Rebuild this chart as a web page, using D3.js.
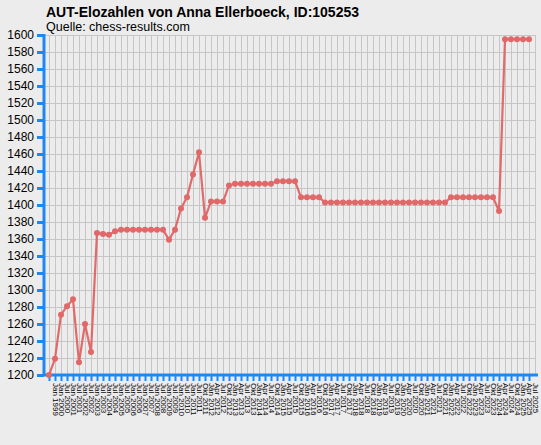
<!DOCTYPE html>
<html><head><meta charset="utf-8">
<script src="https://cdn.jsdelivr.net/npm/d3@7"></script>
<style>
html,body{margin:0;padding:0;background:#ececec;}
svg{display:block;}
</style></head>
<body>
<svg id="chart" width="541" height="445"></svg>
<script>
const title = "AUT-Elozahlen von Anna Ellerboeck, ID:105253";
const subtitle = "Quelle: chess-results.com";

const periods = [
 "Jan 1999",
 "Jan 2000","Jul 2000","Jan 2001","Jul 2001","Jan 2002","Jul 2002","Jan 2003","Jul 2003",
 "Jan 2004","Jul 2004","Jan 2005","Jul 2005","Jan 2006","Jul 2006","Jan 2007","Jul 2007",
 "Jan 2008","Jul 2008","Jan 2009","Jul 2009","Jan 2010","Jul 2010","Jan 2011",
 "Jul 2011","Okt 2011",
 "Jan 2012","Apr 2012","Jul 2012","Okt 2012",
 "Jan 2013","Apr 2013","Jul 2013","Okt 2013",
 "Jan 2014","Apr 2014","Jul 2014","Okt 2014",
 "Jan 2015","Apr 2015","Jul 2015","Okt 2015",
 "Jan 2016","Apr 2016","Jul 2016","Okt 2016",
 "Jan 2017","Apr 2017","Jul 2017","Okt 2017",
 "Jan 2018","Apr 2018","Jul 2018","Okt 2018",
 "Jan 2019","Apr 2019","Jul 2019","Okt 2019",
 "Jan 2020","Apr 2020","Jul 2020","Okt 2020",
 "Jan 2021","Apr 2021","Jul 2021","Okt 2021",
 "Jan 2022","Apr 2022","Jul 2022","Okt 2022",
 "Jan 2023","Apr 2023","Jul 2023","Okt 2023",
 "Jan 2024","Apr 2024","Jul 2024","Okt 2024",
 "Jan 2025","Apr 2025","Jul 2025"
];

const elo = [
 1200,1219,1271,1281,1289,1215,1260,1227,
 1367,1366,1365,1369,
 1371,1371,1371,1371,1371,1371,1371,1371,
 1359,1371,1396,1409,1436,1462,1385,
 1404,1404,1404,
 1423,
 1425,1425,1425,1425,1425,1425,1425,
 1428,1428,1428,1428,
 1409,1409,1409,1409,
 1403,1403,1403,1403,1403,1403,1403,1403,1403,1403,
 1403,1403,1403,1403,1403,1403,1403,1403,1403,1403,1403,
 1409,1409,1409,1409,1409,1409,1409,1409,
 1393,
 1595,1595,1595,1595,1595
];

const yTicks = [1200,1220,1240,1260,1280,1300,1320,1340,1360,1380,1400,1420,1440,1460,1480,1500,1520,1540,1560,1580,1600];

const svg = d3.select("#chart");
const W = 541, H = 445;
svg.append("rect").attr("width",W).attr("height",H).attr("fill","#ececec");

const x = d3.scalePoint().domain(periods).range([49, 529]);
const step = x.step();
const plotLeft = 44, plotRight = 529 + step + 1;
const y = d3.scaleLinear().domain([1200,1600]).range([375, 35]);

// grid
const grid = svg.append("g");
grid.selectAll("line.h").data(yTicks).join("line")
  .attr("x1", plotLeft).attr("x2", plotRight)
  .attr("y1", d=>y(d)+0.5).attr("y2", d=>y(d)+0.5)
  .attr("stroke","#c6c6c6").attr("stroke-width",1);
grid.selectAll("line.v").data(periods.concat(["__end"])).join("line")
  .attr("x1", (d,i)=> (i < periods.length ? x(d) : 529 + step) + 0.5)
  .attr("x2", (d,i)=> (i < periods.length ? x(d) : 529 + step) + 0.5)
  .attr("y1", y(1600)).attr("y2", y(1200))
  .attr("stroke","#c6c6c6").attr("stroke-width",1);

// y axis
const yAxis = d3.axisLeft(y).tickValues(yTicks).tickSize(7).tickPadding(3).tickFormat(d3.format("d"));
const gy = svg.append("g").attr("transform",`translate(${plotLeft},0)`).call(yAxis);
gy.select(".domain").attr("stroke","#1e88f0").attr("stroke-width",3).attr("d",`M0,${y(1600)-1}V${y(1200)+1}`);
gy.selectAll(".tick line").attr("stroke","#1e88f0").attr("stroke-width",3);
gy.selectAll(".tick text").attr("fill","#000").style("font-family","Liberation Sans, Arial, sans-serif").style("font-size","12px");

// x axis
const xAxis = d3.axisBottom(x).tickSize(6).tickPadding(2);
const gx = svg.append("g").attr("transform",`translate(0,${y(1200)})`).call(xAxis);
gx.select(".domain").attr("stroke","#1e88f0").attr("stroke-width",3).attr("d",`M${plotLeft-1},0H${plotRight+2}`);
gx.selectAll(".tick line").attr("stroke","#1e88f0").attr("stroke-width",2).attr("y1",1);
gx.selectAll(".tick text")
  .attr("fill","#000")
  .style("font-family","Liberation Sans, Arial, sans-serif")
  .style("font-size","8px")
  .attr("text-anchor","start")
  .attr("dy","0")
  .attr("transform","translate(3,8) rotate(90)")
  .attr("x",0).attr("y",0);

// line
const line = d3.line().x((d,i)=>x(periods[i])).y(d=>y(d));
svg.append("path").datum(elo)
  .attr("d", line).attr("fill","none")
  .attr("stroke","#e06464").attr("stroke-width",2.2).attr("stroke-opacity",0.95);
svg.append("g").selectAll("circle").data(elo).join("circle")
  .attr("cx",(d,i)=>x(periods[i])).attr("cy",d=>y(d)).attr("r",3)
  .attr("fill","#e06868");

// titles
svg.append("text").attr("x",46).attr("y",16.5).text(title)
  .style("font-family","Liberation Sans, Arial, sans-serif").style("font-weight","bold").style("font-size","14px").attr("fill","#000");
svg.append("text").attr("x",46).attr("y",31).text(subtitle)
  .style("font-family","Liberation Sans, Arial, sans-serif").style("font-size","12.5px").attr("fill","#000");
</script>
</body></html>
